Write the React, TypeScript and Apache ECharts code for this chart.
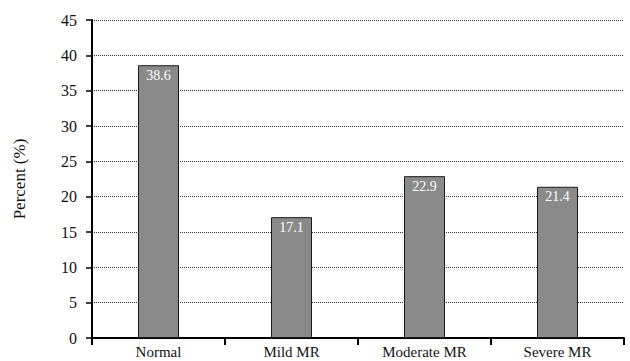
import React, { useEffect, useRef } from "react";
import * as echarts from "echarts";

const categories = ["Normal", "Mild MR", "Moderate MR", "Severe MR"];
const percentValues = [38.6, 17.1, 22.9, 21.4];
const yTicks = [0, 5, 10, 15, 20, 25, 30, 35, 40, 45];

const FONT = "'Liberation Serif', 'DejaVu Serif', serif";

export default function App() {
  const ref = useRef<HTMLDivElement>(null);

  useEffect(() => {
    if (!ref.current) return;
    const chart = echarts.init(ref.current, undefined, { renderer: "svg" });
    chart.setOption({
      animation: false,
      backgroundColor: "#ffffff",
      grid: { left: 92, right: 6, top: 20, bottom: 23, containLabel: false },
      xAxis: {
        type: "category",
        data: categories,
        axisLine: { show: true, lineStyle: { color: "#000", width: 2 } },
        axisTick: {
          show: true,
          alignWithLabel: false,
          length: 7,
          lineStyle: { color: "#000", width: 2 },
        },
        axisLabel: {
          color: "#111",
          fontFamily: FONT,
          fontSize: 15,
          margin: 6,
        },
      },
      yAxis: {
        type: "value",
        min: yTicks[0],
        max: yTicks[yTicks.length - 1],
        interval: 5,
        name: "Percent (%)",
        nameLocation: "middle",
        nameGap: 64,
        nameRotate: 90,
        nameTextStyle: { color: "#111", fontFamily: FONT, fontSize: 17 },
        axisLine: { show: true, lineStyle: { color: "#000", width: 2 } },
        axisTick: {
          show: true,
          inside: false,
          length: 6,
          lineStyle: { color: "#000", width: 1.5 },
        },
        axisLabel: {
          color: "#111",
          fontFamily: FONT,
          fontSize: 16,
          margin: 15,
        },
        splitLine: {
          show: true,
          lineStyle: { color: "#333", width: 1, type: [1, 1] },
        },
      },
      series: [
        {
          type: "bar",
          data: percentValues,
          barWidth: 41,
          itemStyle: { color: "#8a8a8a", borderColor: "#1a1a1a", borderWidth: 1 },
          label: {
            show: true,
            position: "insideTop",
            distance: 3,
            color: "#ffffff",
            fontFamily: FONT,
            fontSize: 14,
            formatter: (p: any) => p.value.toFixed(1),
          },
        },
      ],
    });
    return () => chart.dispose();
  }, []);

  return (
    <div
      ref={ref}
      style={{ position: "fixed", left: 0, top: 0, width: 630, height: 361 }}
    />
  );
}
